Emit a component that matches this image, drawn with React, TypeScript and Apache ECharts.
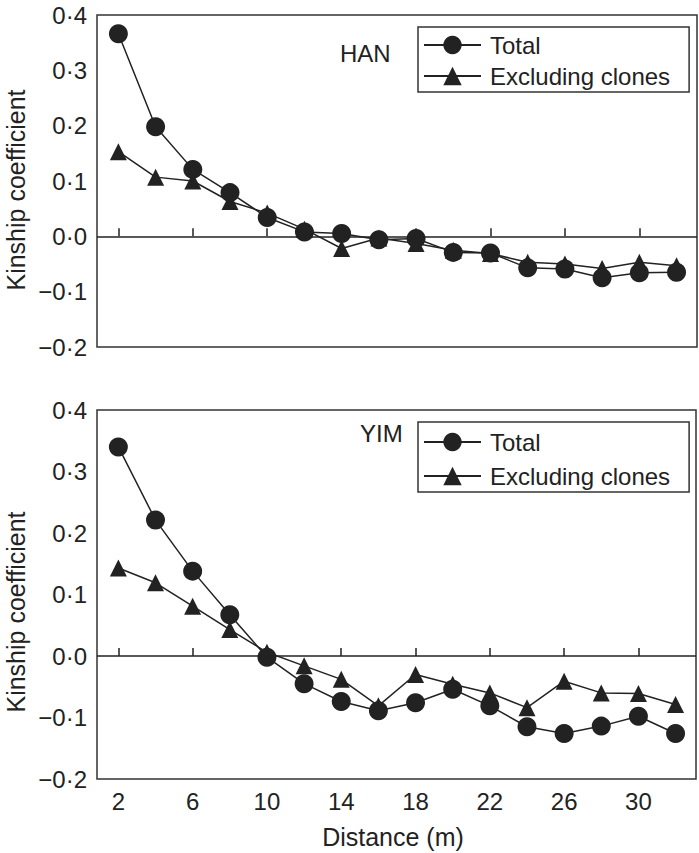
import React, { useEffect, useRef } from "react";
import * as echarts from "echarts";

const distances = [2, 4, 6, 8, 10, 12, 14, 16, 18, 20, 22, 24, 26, 28, 30, 32];
const distanceTicks = [2, 6, 10, 14, 18, 22, 26, 30];

const hanTotal = [0.366, 0.198, 0.121, 0.079, 0.034, 0.008, 0.005, -0.006, -0.004, -0.029, -0.03, -0.057, -0.059, -0.075, -0.066, -0.065];
const hanExcluding = [0.153, 0.107, 0.1, 0.063, 0.042, 0.013, -0.022, -0.003, -0.013, -0.025, -0.031, -0.047, -0.05, -0.058, -0.047, -0.053];

const yimTotal = [0.34, 0.221, 0.138, 0.067, -0.002, -0.045, -0.074, -0.089, -0.076, -0.054, -0.081, -0.115, -0.126, -0.114, -0.098, -0.126];
const yimExcluding = [0.143, 0.119, 0.081, 0.043, 0.006, -0.016, -0.038, -0.081, -0.03, -0.046, -0.06, -0.084, -0.041, -0.06, -0.061, -0.079];

const seriesNames = ["Total", "Excluding clones"];
const panelLabels = ["HAN", "YIM"];
const yTitle = "Kinship coefficient";
const xTitle = "Distance (m)";

const FONT = "'Liberation Sans', Arial, Helvetica, sans-serif";
const INK = "#222";

const fmtY = (v: number) => {
  const s = Math.abs(v).toFixed(1).replace(".", "·");
  return v < -1e-9 ? "\u2212" + s : s;
};

function pairs(vals: number[]) {
  return distances.map((d, i) => [d, vals[i]]);
}

export default function App() {
  const ref = useRef<HTMLDivElement>(null);
  useEffect(() => {
    document.body.style.margin = "0";
    const chart = echarts.init(ref.current!, undefined, { renderer: "svg" });

    const grids = [
      { left: 97, top: 15, right: 2, height: 332 },
      { left: 97, top: 410, right: 3, height: 369 },
    ];

    const xAxes = [0, 1].map((i) => ({
      type: "value",
      gridIndex: i,
      min: 0.85,
      max: 33.1,
      splitLine: { show: false },
      axisLine: { show: false },
      axisTick: {
        show: true,
        inside: true,
        length: 8,
        customValues: distanceTicks,
        lineStyle: { color: INK, width: 1.5 },
      },
      axisLabel: {
        show: i === 1,
        customValues: distanceTicks,
        fontSize: 24,
        fontFamily: FONT,
        color: INK,
        margin: 10,
      },
    }));

    const yAxes = [0, 1].map((i) => ({
      type: "value",
      gridIndex: i,
      min: -0.2,
      max: 0.4,
      interval: 0.1,
      splitLine: { show: false },
      axisLine: { show: false },
      axisTick: { show: false },
      axisLabel: {
        formatter: fmtY,
        fontSize: 24,
        fontFamily: FONT,
        color: INK,
        margin: 10,
      },
    }));

    const lineSeries = (name: string, vals: number[], idx: number, symbol: string, size: number | number[], withZero: boolean) => ({
      type: "line",
      name,
      xAxisIndex: idx,
      yAxisIndex: idx,
      data: pairs(vals),
      symbol,
      symbolSize: size,
      showAllSymbol: true,
      lineStyle: { color: INK, width: 1.5 },
      itemStyle: { color: INK },
      emphasis: { disabled: true },
      markLine: withZero
        ? {
            silent: true,
            symbol: "none",
            label: { show: false },
            lineStyle: { color: INK, width: 1.5, type: "solid" },
            data: [{ yAxis: 0 }],
          }
        : undefined,
    });

    const legendCommon = {
      orient: "vertical",
      itemWidth: 57,
      itemHeight: 23,
      borderColor: "#333",
      borderWidth: 1.5,
      selectedMode: false,
      textStyle: { fontSize: 24, fontFamily: FONT, color: INK, lineHeight: 24, padding: [0, 0, 0, 4] },
      data: seriesNames,
    };

    chart.setOption({
      animation: false,
      grid: grids.map((g) => ({ ...g, show: true, borderColor: "#333", borderWidth: 1.5, backgroundColor: "transparent" })),
      xAxis: xAxes,
      yAxis: yAxes,
      legend: [
        { ...legendCommon, left: 418, top: 27, itemGap: 7, padding: [6, 19, 4, 5] },
        { ...legendCommon, left: 418, top: 422, itemGap: 10, padding: [8, 19, 4, 5] },
      ],
      series: [
        lineSeries(seriesNames[1], hanExcluding, 0, "triangle", [17, 17], true),
        lineSeries(seriesNames[0], hanTotal, 0, "circle", 19, false),
        lineSeries(seriesNames[1], yimExcluding, 1, "triangle", [17, 17], true),
        lineSeries(seriesNames[0], yimTotal, 1, "circle", 19, false),
      ],
      graphic: [
        { type: "text", x: 340, y: 53, style: { text: panelLabels[0], font: `24px ${FONT}`, fill: INK, verticalAlign: "middle" } },
        { type: "text", x: 360, y: 433, style: { text: panelLabels[1], font: `24px ${FONT}`, fill: INK, verticalAlign: "middle" } },
        { type: "text", x: 16, y: 190, rotation: Math.PI / 2, style: { text: yTitle, font: `25px ${FONT}`, fill: INK, align: "center", verticalAlign: "middle" } },
        { type: "text", x: 16, y: 612, rotation: Math.PI / 2, style: { text: yTitle, font: `25px ${FONT}`, fill: INK, align: "center", verticalAlign: "middle" } },
        { type: "text", x: 393, y: 837, style: { text: xTitle, font: `25px ${FONT}`, fill: INK, align: "center", verticalAlign: "middle" } },
      ],
    });
    return () => chart.dispose();
  }, []);
  return <div ref={ref} style={{ width: 699, height: 853 }} />;
}
